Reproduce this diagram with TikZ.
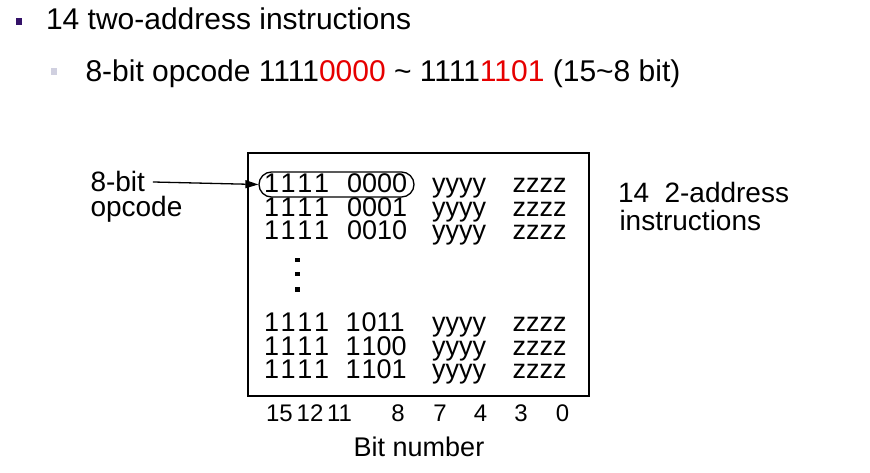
\documentclass[tikz,border=0pt]{standalone}
\usepackage{fontspec}
\setmainfont{Liberation Sans}
\usetikzlibrary{arrows.meta}
\definecolor{bulletA}{RGB}{52,18,104}
\definecolor{bulletB}{RGB}{208,208,224}
\definecolor{hired}{RGB}{230,0,0}
\newcommand{\gapk}[1]{\kern#1pt}
\begin{document}
\begin{tikzpicture}[x=1pt,y=-1pt,
  ttl/.style={anchor=base west, inner sep=0pt, outer sep=0pt, font=\fontsize{30}{34}\selectfont},
  txt/.style={anchor=base west, inner sep=0pt, outer sep=0pt, font=\fontsize{28}{32}\selectfont},
  rowtxt/.style={anchor=base west, inner sep=0pt, outer sep=0pt, text height=18pt, text depth=0pt, font=\fontsize{27}{30}\selectfont},
  bitnum/.style={anchor=base, inner sep=0pt, outer sep=0pt, font=\fontsize{24}{28}\selectfont},
  frame/.style={draw, line width=2.6pt, inner sep=0pt},
  selbox/.style={draw, line width=1.3pt, rounded corners=12.5pt, inner sep=0pt}]
\useasboundingbox (0,0) rectangle (870,473);
% bullets
\fill[bulletA] (15.5,18.5) rectangle (22,25);
\fill[bulletB] (50.5,68.5) rectangle (57,75);
% title lines
\node[ttl] (t1) at (46,30) {14 two-address instructions};
\node[ttl] (t2) at (85.5,81.5) {8-bit opcode 1111\textcolor{hired}{0000} \char`~{} 1111\textcolor{hired}{1101} (15\char`~8 bit)};
% frame
\node[frame, minimum width=341pt, minimum height=243pt] (frm) at (418.5,274.5) {};
% rows
\node[rowtxt] (r1a) at (264,193) {1\gapk{1.7}1\gapk{1.7}1\gapk{1.7}1};
\node[rowtxt] (r1b) at (347,193) {0000};
\node[rowtxt] (r1c) at (432,193) {yyyy};
\node[rowtxt] (r1d) at (512.5,193) {zzzz};
\node[rowtxt] (r2a) at (264,216.5) {1\gapk{1.7}1\gapk{1.7}1\gapk{1.7}1};
\node[rowtxt] (r2b) at (347,216.5) {0001};
\node[rowtxt] (r2c) at (432,216.5) {yyyy};
\node[rowtxt] (r2d) at (512.5,216.5) {zzzz};
\node[rowtxt] (r3a) at (264,240) {1\gapk{1.7}1\gapk{1.7}1\gapk{1.7}1};
\node[rowtxt] (r3b) at (347,240) {0010};
\node[rowtxt] (r3c) at (432,240) {yyyy};
\node[rowtxt] (r3d) at (512.5,240) {zzzz};
\node[rowtxt] (r4a) at (264,331) {1\gapk{1.7}1\gapk{1.7}1\gapk{1.7}1};
\node[rowtxt] (r4b) at (345.5,331) {1\gapk{1}011};
\node[rowtxt] (r4c) at (432,331) {yyyy};
\node[rowtxt] (r4d) at (512.5,331) {zzzz};
\node[rowtxt] (r5a) at (264,355) {1\gapk{1.7}1\gapk{1.7}1\gapk{1.7}1};
\node[rowtxt] (r5b) at (345.5,355) {1\gapk{1}100};
\node[rowtxt] (r5c) at (432,355) {yyyy};
\node[rowtxt] (r5d) at (512.5,355) {zzzz};
\node[rowtxt] (r6a) at (264,378) {1\gapk{1.7}1\gapk{1.7}1\gapk{1.7}1};
\node[rowtxt] (r6b) at (345.5,378) {1\gapk{1}101};
\node[rowtxt] (r6c) at (432,378) {yyyy};
\node[rowtxt] (r6d) at (512.5,378) {zzzz};
% vertical dots
\fill (295.3,257.7) rectangle +(4.6,4.6);
\fill (295.3,271.7) rectangle +(4.6,4.6);
\fill (295.3,287.2) rectangle +(4.6,4.6);
% opcode selection
\node[selbox, minimum width=155pt, minimum height=25pt] (sel) at (336.5,184.5) {};
% left labels
\node[txt] (lb1) at (90.5,192) {8-bit};
\node[txt] (lb2) at (90.5,217) {opcode};
\draw[line width=1.3pt, -{Triangle[length=13pt,width=8pt]}] ([xshift=8pt]lb1.east) -- (sel.west);
% right labels
\node[txt] (rl1) at (618,203) {14\hspace{0.55em}2-address};
\node[txt] (rl2) at (619.5,231) {instructions};
% bit numbers
\node[bitnum] (b15) at (279.5,421.5) {15};
\node[bitnum] (b12) at (310,421.5) {12};
\node[bitnum] (b11) at (339.5,421.5) {11};
\node[bitnum] (b8) at (398,421.5) {8};
\node[bitnum] (b7) at (440,421.5) {7};
\node[bitnum] (b4) at (480.5,421.5) {4};
\node[bitnum] (b3) at (521,421.5) {3};
\node[bitnum] (b0) at (562.5,421.5) {0};
\node[bitnum, font=\fontsize{27}{32}\selectfont] (bn) at (419,456.5) {Bit number};
\end{tikzpicture}
\end{document}
